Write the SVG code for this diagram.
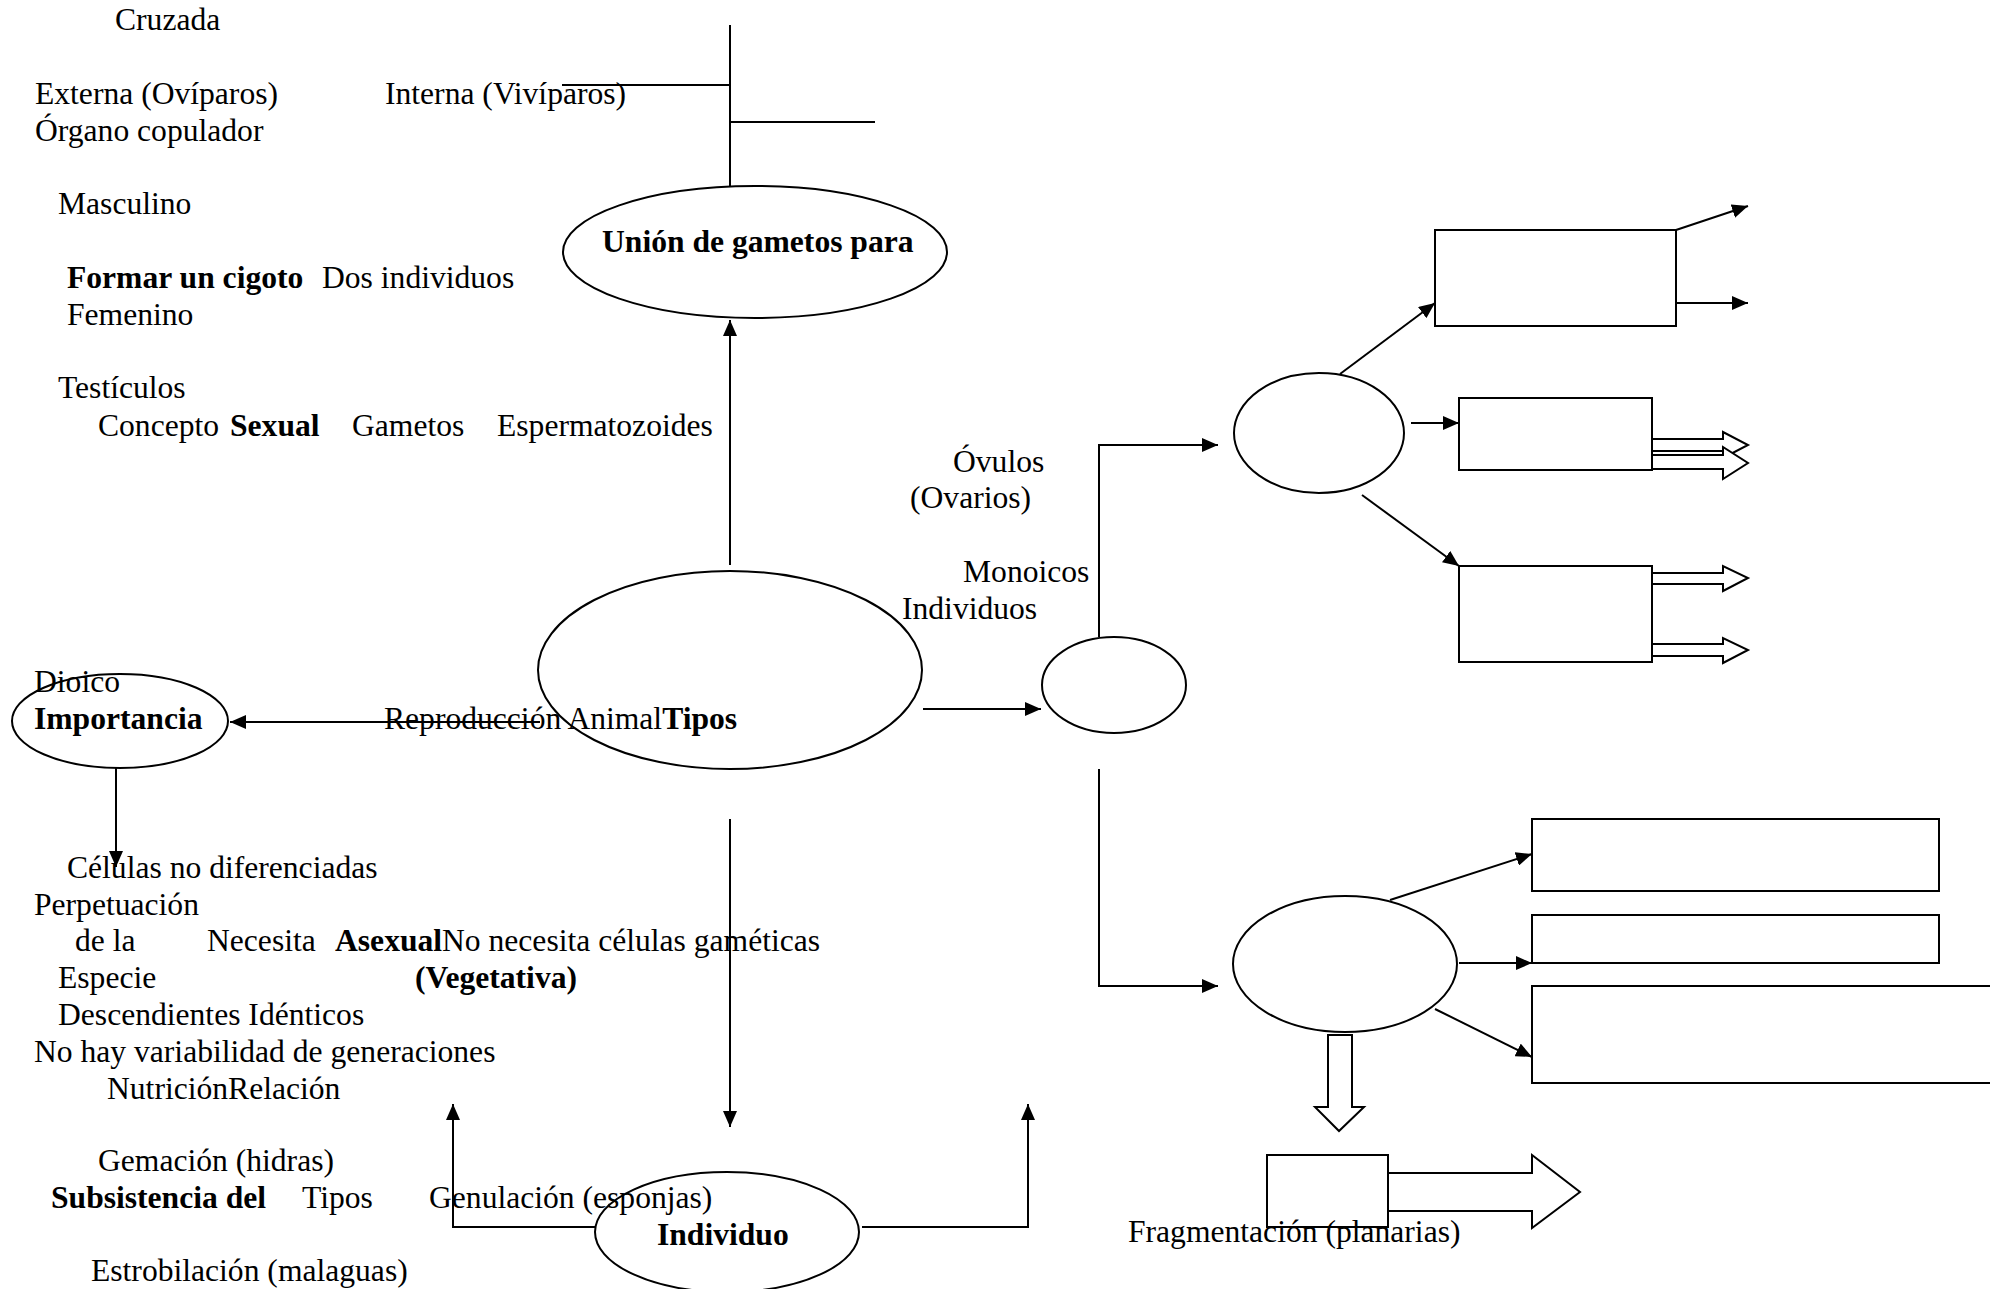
<svg xmlns="http://www.w3.org/2000/svg" width="1990" height="1289" viewBox="0 0 1990 1289">
<style>
text{font-family:"Liberation Serif","Times New Roman",serif;font-size:31.6px;fill:#000}
.b{font-weight:bold}
.s{fill:none;stroke:#000;stroke-width:2}
.n{fill:#fff;stroke:#000;stroke-width:2}
</style>
<defs>
<marker id="ah" markerUnits="userSpaceOnUse" markerWidth="16" markerHeight="14" refX="16" refY="7" orient="auto">
<path d="M0,0 L16,7 L0,14 z" fill="#000"/>
</marker>
</defs>
<rect width="1990" height="1289" fill="#fff"/>
<g id="connectors">
<path class="s" d="M730,25 V186"/>
<path class="s" d="M562,85 H730"/>
<path class="s" d="M730,122 H875"/>
<path class="s" d="M730,565 V320" marker-end="url(#ah)"/>
<path class="s" d="M540,722 H230" marker-end="url(#ah)"/>
<path class="s" d="M116,768 V867" marker-end="url(#ah)"/>
<path class="s" d="M923,709 H1041" marker-end="url(#ah)"/>
<path class="s" d="M1099,637 V445 H1218" marker-end="url(#ah)"/>
<path class="s" d="M1099,769 V986 H1218" marker-end="url(#ah)"/>
<path class="s" d="M1340,374 L1435,303" marker-end="url(#ah)"/>
<path class="s" d="M1411,423 H1459" marker-end="url(#ah)"/>
<path class="s" d="M1362,495 L1459,566" marker-end="url(#ah)"/>
<path class="s" d="M1676,230 L1748,206" marker-end="url(#ah)"/>
<path class="s" d="M1676,303 H1748" marker-end="url(#ah)"/>
<path class="s" d="M1390,900 L1532,854" marker-end="url(#ah)"/>
<path class="s" d="M1459,963 H1532" marker-end="url(#ah)"/>
<path class="s" d="M1435,1009 L1532,1057" marker-end="url(#ah)"/>
<path class="s" d="M730,819 V1127" marker-end="url(#ah)"/>
<path class="s" d="M595,1227 H453 V1104" marker-end="url(#ah)"/>
<path class="s" d="M862,1227 H1028 V1104" marker-end="url(#ah)"/>
<path class="n" d="M1652,439 H1723 V432 L1748,445 L1723,458 V451 H1652"/>
<path class="n" d="M1652,455 H1723 V447 L1748,463 L1723,479 V469 H1652"/>
<path class="n" d="M1652,573 H1723 V566 L1748,578 L1723,591 V584 H1652"/>
<path class="n" d="M1652,644 H1723 V638 L1748,650 L1723,663 V656 H1652"/>
<path class="n" d="M1328,1035 V1107 H1315 L1339,1131 L1364,1107 H1352 V1035 Z"/>
<path class="n" d="M1388,1173 H1532 V1155 L1580,1192 L1532,1228 V1211 H1388"/>
</g>
<g id="n-union"><ellipse class="s" cx="755" cy="252" rx="192" ry="66"/></g>
<g id="n-reproduccion"><ellipse class="s" cx="730" cy="670" rx="192" ry="99"/></g>
<g id="n-importancia"><ellipse class="s" cx="120" cy="721" rx="108" ry="47"/></g>
<g id="n-individuos"><ellipse class="s" cx="1114" cy="685" rx="72" ry="48"/></g>
<g id="n-sexual-e"><ellipse class="s" cx="1319" cy="433" rx="85" ry="60"/></g>
<g id="n-asexual-e"><ellipse class="s" cx="1345" cy="964" rx="112" ry="68"/></g>
<g id="n-individuo"><ellipse class="s" cx="727" cy="1232" rx="132" ry="60"/></g>
<g id="n-rectA"><rect class="s" x="1435" y="230" width="241" height="96"/></g>
<g id="n-rectB"><rect class="s" x="1459" y="398" width="193" height="72"/></g>
<g id="n-rectC"><rect class="s" x="1459" y="566" width="193" height="96"/></g>
<g id="n-rectD"><rect class="s" x="1532" y="819" width="407" height="72"/></g>
<g id="n-rectE"><rect class="s" x="1532" y="915" width="407" height="48"/></g>
<g id="n-rectF"><rect class="s" x="1532" y="986" width="470" height="97"/></g>
<g id="n-rectG"><rect class="s" x="1267" y="1155" width="121" height="72"/></g>
<g id="labels">
<text x="115" y="30">Cruzada</text>
<text x="35" y="104">Externa (Ovíparos)</text>
<text x="385" y="104">Interna (Vivíparos)</text>
<text x="35" y="141">Órgano copulador</text>
<text x="58" y="214">Masculino</text>
<text x="602" y="252" class="b">Unión de gametos para</text>
<text x="67" y="288" class="b">Formar un cigoto</text>
<text x="322" y="288">Dos individuos</text>
<text x="67" y="325">Femenino</text>
<text x="58" y="398">Testículos</text>
<text x="98" y="436">Concepto</text>
<text x="230" y="436" class="b">Sexual</text>
<text x="352" y="436">Gametos</text>
<text x="497" y="436">Espermatozoides</text>
<text x="953" y="472">Óvulos</text>
<text x="910" y="508">(Ovarios)</text>
<text x="963" y="582">Monoicos</text>
<text x="902" y="619">Individuos</text>
<text x="34" y="692">Dioico</text>
<text x="34" y="729" class="b">Importancia</text>
<text x="384" y="729">Reproducción Animal<tspan class="b">Tipos</tspan></text>
<text x="67" y="878">Células no diferenciadas</text>
<text x="34" y="915">Perpetuación</text>
<text x="75" y="951">de la</text>
<text x="207" y="951">Necesita</text>
<text x="335" y="951" class="b">Asexual</text>
<text x="442" y="951">No necesita células gaméticas</text>
<text x="58" y="988">Especie</text>
<text x="415" y="988" class="b">(Vegetativa)</text>
<text x="58" y="1025">Descendientes Idénticos</text>
<text x="34" y="1062">No hay variabilidad de generaciones</text>
<text x="107" y="1099">NutriciónRelación</text>
<text x="98" y="1171">Gemación (hidras)</text>
<text x="51" y="1208" class="b">Subsistencia del</text>
<text x="302" y="1208">Tipos</text>
<text x="429" y="1208">Genulación (esponjas)</text>
<text x="657" y="1245" class="b">Individuo</text>
<text x="1128" y="1242">Fragmentación (planarias)</text>
<text x="91" y="1281">Estrobilación (malaguas)</text>
</g>
</svg>
